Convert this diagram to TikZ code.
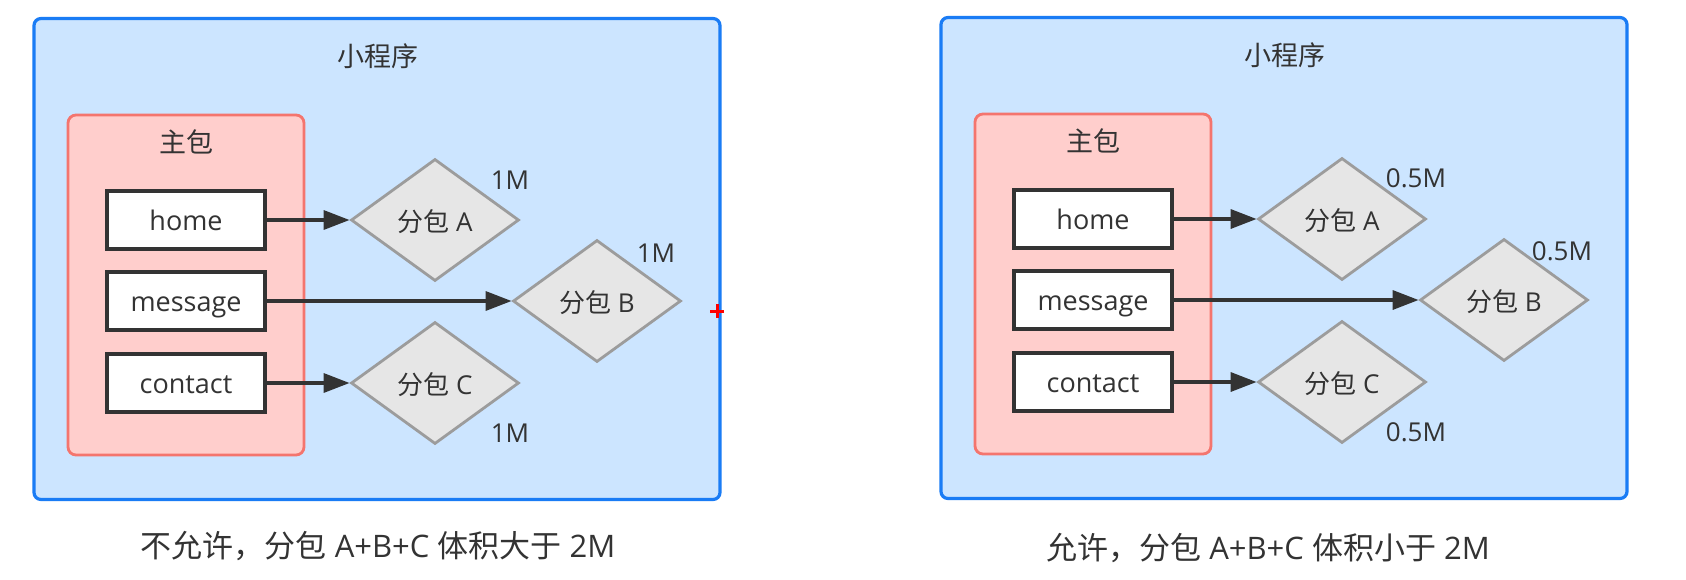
\documentclass[tikz,border=0pt]{standalone}
\usepackage{fontspec}
\setmainfont{Open Sans}
\newfontfamily\cjk{Noto Sans CJK SC}
\usetikzlibrary{shapes.geometric,arrows.meta}
\definecolor{bluefill}{HTML}{CCE5FF}
\definecolor{blueline}{HTML}{1A7CF5}
\definecolor{redfill}{HTML}{FFCECC}
\definecolor{redline}{HTML}{F4756E}
\definecolor{boxline}{HTML}{333333}
\definecolor{dfill}{HTML}{E6E6E6}
\definecolor{dline}{HTML}{9C9C9C}
\definecolor{txt}{HTML}{333333}
\definecolor{cursor}{HTML}{FF0000}
\begin{document}
\begin{tikzpicture}[x=1pt,y=-1pt,
  app/.style={draw=blueline, fill=bluefill, line width=3.2pt, rounded corners=7pt,
    minimum width=686pt, minimum height=481pt, inner sep=0pt},
  mainpkg/.style={draw=redline, fill=redfill, line width=2.8pt, rounded corners=8pt,
    minimum width=236pt, minimum height=340pt, inner sep=0pt},
  page/.style={draw=boxline, fill=white, line width=3.8pt,
    minimum width=158pt, minimum height=58pt, inner sep=0pt,
    text height=20pt, text depth=0pt,
    font=\fontsize{27}{32}\selectfont, text=txt},
  sub/.style={diamond, draw=dline, fill=dfill, line width=2.8pt,
    minimum width=168pt, minimum height=122pt, inner sep=0pt,
    text height=23pt, text depth=0pt,
    font=\fontsize{26}{30}\selectfont, text=txt},
  ttl/.style={font=\cjk\fontsize{27}{30}\selectfont, text=txt, inner sep=0pt},
  lab/.style={font=\fontsize{26}{30}\selectfont, text=txt, inner sep=0pt},
  captext/.style={font=\fontsize{31}{36}\selectfont, text=txt, inner sep=0pt},
  arr/.style={draw=boxline, line width=3.4pt, -{Triangle[length=26pt,width=19pt]}}
]
\useasboundingbox (0,0) rectangle (1686,579);
\fill[white] (0,0) rectangle (1686,579);

% ---------- left panel ----------
\node[app] (La) at (377,259) {};
\node[ttl] (Lt) at (378,56) {小程序};
\node[mainpkg] (Lm) at (186,285) {};
\node[ttl] (Lmt) at (186,142) {主包};
\node[page] (Lh) at (186,220) {home};
\node[page] (Lg) at (186,301) {message};
\node[page] (Lc) at (186,383) {contact};
\node[sub] (LA) at (435,220) {{\cjk 分包} A};
\node[sub] (LB) at (597,301) {{\cjk 分包} B};
\node[sub] (LC) at (435,383) {{\cjk 分包} C};
\draw[arr] (Lh.east) -- (LA.west);
\draw[arr] (Lg.east) -- (LB.west);
\draw[arr] (Lc.east) -- (LC.west);
\node[lab] (LAs) at (510,180) {1M};
\node[lab] (LBs) at (656,253) {1M};
\node[lab] (LCs) at (510,433) {1M};
\node[captext] (Lcap) at (378,546) {{\cjk 不允许，分包} A+B+C {\cjk 体积大于} 2M};
\draw[cursor, line width=3pt] (710,311) -- (724,311) (717,304) -- (717,318);

% ---------- right panel ----------
\node[app] (Ra) at (1284,258) {};
\node[ttl] (Rt) at (1285,55) {小程序};
\node[mainpkg] (Rm) at (1093,284) {};
\node[ttl] (Rmt) at (1093,141) {主包};
\node[page] (Rh) at (1093,219) {home};
\node[page] (Rg) at (1093,300) {message};
\node[page] (Rc) at (1093,382) {contact};
\node[sub] (RA) at (1342,219) {{\cjk 分包} A};
\node[sub] (RB) at (1504,300) {{\cjk 分包} B};
\node[sub] (RC) at (1342,382) {{\cjk 分包} C};
\draw[arr] (Rh.east) -- (RA.west);
\draw[arr] (Rg.east) -- (RB.west);
\draw[arr] (Rc.east) -- (RC.west);
\node[lab] (RAs) at (1416,178) {0.5M};
\node[lab] (RBs) at (1562,251) {0.5M};
\node[lab] (RCs) at (1416,432) {0.5M};
\node[captext] (Rcap) at (1268,548) {{\cjk 允许，分包} A+B+C {\cjk 体积小于} 2M};
\end{tikzpicture}
\end{document}
